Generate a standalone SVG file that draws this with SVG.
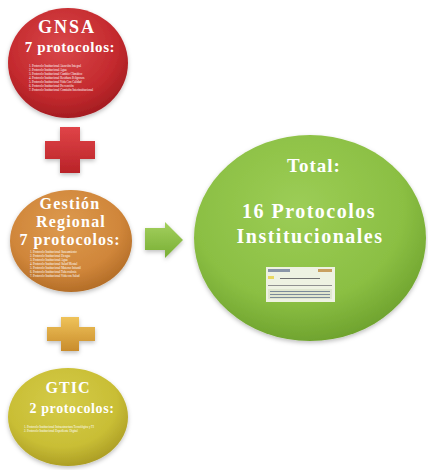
<svg xmlns="http://www.w3.org/2000/svg" width="428" height="470" viewBox="0 0 428 470">
  <defs>
    <radialGradient id="gRed" cx="45%" cy="35%" r="65%">
      <stop offset="0" stop-color="#d9474a"/>
      <stop offset="0.7" stop-color="#c42a2e"/>
      <stop offset="1" stop-color="#a51d22"/>
    </radialGradient>
    <radialGradient id="gOrange" cx="45%" cy="35%" r="65%">
      <stop offset="0" stop-color="#dd9a4e"/>
      <stop offset="0.7" stop-color="#d0863a"/>
      <stop offset="1" stop-color="#b46e28"/>
    </radialGradient>
    <radialGradient id="gYellow" cx="45%" cy="35%" r="65%">
      <stop offset="0" stop-color="#d4cb48"/>
      <stop offset="0.7" stop-color="#c9be35"/>
      <stop offset="1" stop-color="#ad9f26"/>
    </radialGradient>
    <radialGradient id="gGreen" cx="45%" cy="35%" r="65%">
      <stop offset="0" stop-color="#9ccd56"/>
      <stop offset="0.7" stop-color="#8bbf43"/>
      <stop offset="1" stop-color="#70a42f"/>
    </radialGradient>
    <linearGradient id="gPlusRed" x1="0" y1="0" x2="0" y2="1">
      <stop offset="0" stop-color="#e04448"/>
      <stop offset="1" stop-color="#b92328"/>
    </linearGradient>
    <linearGradient id="gPlusOrange" x1="0" y1="0" x2="0" y2="1">
      <stop offset="0" stop-color="#efc35a"/>
      <stop offset="1" stop-color="#c98c2c"/>
    </linearGradient>
    <linearGradient id="gArrow" x1="0" y1="0" x2="0" y2="1">
      <stop offset="0" stop-color="#a4d05e"/>
      <stop offset="1" stop-color="#78ae34"/>
    </linearGradient>
    <filter id="soft" x="-10%" y="-10%" width="120%" height="125%">
      <feDropShadow dx="0" dy="2" stdDeviation="2" flood-color="#000" flood-opacity="0.25"/>
    </filter>
  </defs>
  <style>
    .title { font-family: "Liberation Serif", "Times New Roman", serif; font-weight: bold; fill: #ffffff; text-anchor: middle; }
    .list { font-family: "Liberation Serif", "Times New Roman", serif; font-size: 3px; fill: #ffffff; }
  </style>
  <rect width="428" height="470" fill="#ffffff"/>

  <g id="gnsa">
    <ellipse cx="68" cy="63" rx="60" ry="55" fill="url(#gRed)" filter="url(#soft)"/>
    <text class="title" x="67" y="33" font-size="18" letter-spacing="2">GNSA</text>
    <text class="title" x="70" y="52" font-size="15" letter-spacing="0.6">7 protocolos:</text>
    <text class="list" x="29" y="67">1. Protocolo Institucional Atención Integral</text>
    <text class="list" x="29" y="71">2. Protocolo Institucional Agua</text>
    <text class="list" x="29" y="75">3. Protocolo Institucional Cambio Climático</text>
    <text class="list" x="29" y="79">4. Protocolo Institucional Residuos Peligrosos</text>
    <text class="list" x="29" y="83">5. Protocolo Institucional Vida Con Calidad</text>
    <text class="list" x="29" y="87">6. Protocolo Institucional Prevención</text>
    <text class="list" x="29" y="91">7. Protocolo Institucional Comisión Interinstitucional</text>
  </g>

  <g id="regional">
    <ellipse cx="71" cy="241" rx="61" ry="51" fill="url(#gOrange)" filter="url(#soft)"/>
    <text class="title" x="70" y="209" font-size="16" letter-spacing="1.2">Gestión</text>
    <text class="title" x="71" y="227" font-size="16" letter-spacing="1.2">Regional</text>
    <text class="title" x="70" y="245" font-size="16" letter-spacing="1">7 protocolos:</text>
    <text class="list" x="30" y="253">1. Protocolo Institucional Saneamiento</text>
    <text class="list" x="30" y="257">2. Protocolo Institucional Dengue</text>
    <text class="list" x="30" y="261">3. Protocolo Institucional Agua</text>
    <text class="list" x="30" y="265">4. Protocolo Institucional Salud Mental</text>
    <text class="list" x="30" y="269">5. Protocolo Institucional Materno Infantil</text>
    <text class="list" x="30" y="273">6. Protocolo Institucional Tuberculosis</text>
    <text class="list" x="30" y="277">7. Protocolo Institucional Vida con Salud</text>
  </g>

  <g id="gtic">
    <ellipse cx="68" cy="417" rx="60" ry="49" fill="url(#gYellow)" filter="url(#soft)"/>
    <text class="title" x="68" y="393" font-size="16" letter-spacing="1">GTIC</text>
    <text class="title" x="72" y="413" font-size="14" letter-spacing="0.6">2 protocolos:</text>
    <text class="list" x="24" y="428">1. Protocolo Institucional Infraestructura Tecnológica y TI</text>
    <text class="list" x="24" y="432">2. Protocolo Institucional Expediente Digital</text>
  </g>

  <g id="total">
    <ellipse cx="310" cy="238" rx="116" ry="103" fill="url(#gGreen)" filter="url(#soft)"/>
    <text class="title" x="314" y="172" font-size="19" letter-spacing="1">Total:</text>
    <text class="title" x="309" y="218" font-size="20" letter-spacing="1.5">16 Protocolos</text>
    <text class="title" x="310" y="243" font-size="20" letter-spacing="1.5">Institucionales</text>
    <g id="thumbnail">
      <rect x="266" y="267" width="69" height="35" fill="#eef2e2"/>
      <rect x="268" y="269" width="22" height="3" fill="#8a96a8"/>
      <rect x="318" y="269" width="14" height="3" fill="#c9a060"/>
      <rect x="268" y="276" width="6" height="3" fill="#e8d860"/>
      <rect x="280" y="278" width="40" height="1" fill="#707070"/>
      <rect x="268" y="285" width="64" height="1" fill="#909090"/>
      <rect x="268" y="289" width="64" height="10" fill="#dfe6cf"/>
      <rect x="270" y="291" width="60" height="1" fill="#7a8a9a"/>
      <rect x="270" y="294" width="60" height="1" fill="#7a8a9a"/>
      <rect x="270" y="297" width="60" height="1" fill="#7a8a9a"/>
    </g>
  </g>

  <g id="connectors">
    <path d="M60 127 H80 V141 H95 V159 H80 V173 H60 V159 H45 V141 H60 Z" fill="url(#gPlusRed)" filter="url(#soft)"/>
    <path d="M61 317 H79 V327 H95 V341 H79 V351 H61 V341 H47 V327 H61 Z" fill="url(#gPlusOrange)" filter="url(#soft)"/>
    <path d="M145 228 H165 V222 L183 240 L165 258 V250 H145 Z" fill="url(#gArrow)" filter="url(#soft)"/>
  </g>
</svg>
